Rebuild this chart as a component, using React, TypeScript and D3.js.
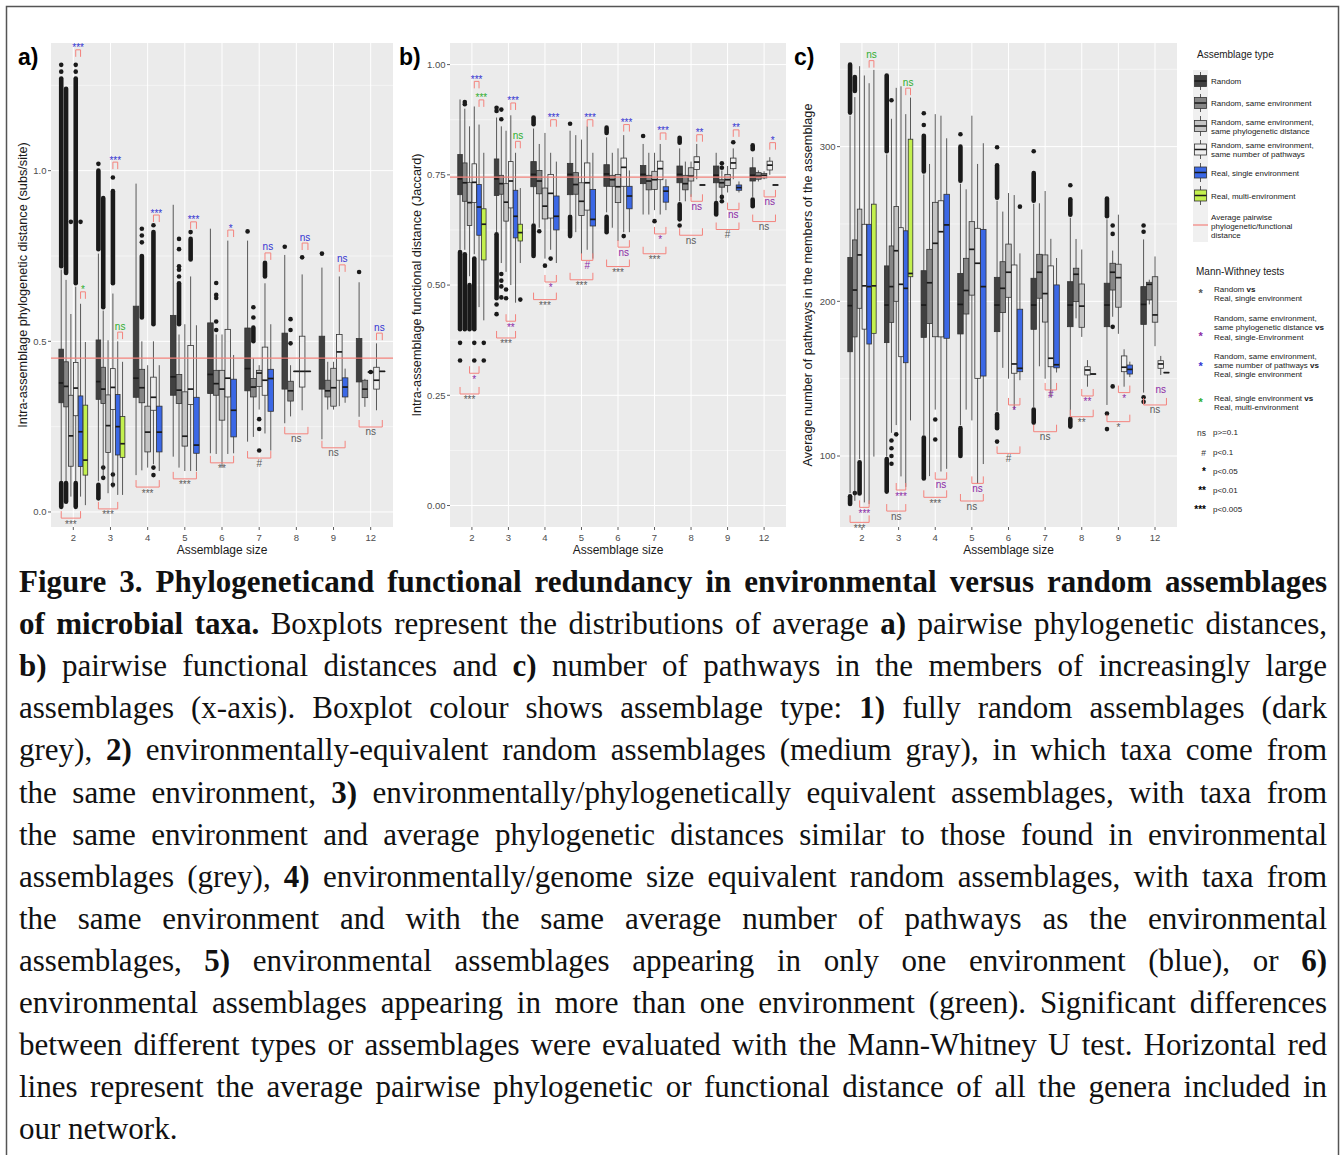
import { useEffect, useRef } from "react";
import * as d3 from "d3";

// assemblage sizes on the x axis
const sizes = ["2", "3", "4", "5", "6", "7", "8", "9", "12"];

const typeFills = ["#404040", "#858585", "#c4c4c4", "#eeeeee", "#3b68e6", "#c3f04e"];

// rows: [size index, type index, lower whisker, q1, median, q3, upper whisker]
const phyloBoxes = [
  [0, 0, 0.09, 0.32, 0.378, 0.477, 0.71], [0, 1, 0.09, 0.308, 0.368, 0.44, 0.68],
  [0, 2, 0.045, 0.134, 0.223, 0.342, 0.58], [0, 3, 0.09, 0.282, 0.363, 0.438, 0.66],
  [0, 4, 0.045, 0.133, 0.235, 0.34, 0.61], [0, 5, 0.02, 0.108, 0.152, 0.313, 0.498],
  [1, 0, 0.09, 0.33, 0.382, 0.504, 0.757], [1, 1, 0.1, 0.318, 0.36, 0.424, 0.59],
  [1, 2, 0.055, 0.174, 0.253, 0.343, 0.503], [1, 3, 0.07, 0.3, 0.365, 0.42, 0.64],
  [1, 4, 0.05, 0.167, 0.25, 0.344, 0.5], [1, 5, 0.05, 0.16, 0.2, 0.28, 0.44],
  [2, 0, 0.108, 0.336, 0.392, 0.603, 0.962], [2, 1, 0.122, 0.32, 0.364, 0.418, 0.5],
  [2, 2, 0.13, 0.176, 0.234, 0.31, 0.43], [2, 3, 0.14, 0.298, 0.336, 0.395, 0.5],
  [2, 4, 0.12, 0.176, 0.234, 0.31, 0.43],
  [3, 0, 0.162, 0.342, 0.396, 0.576, 0.9], [3, 1, 0.13, 0.318, 0.357, 0.403, 0.52],
  [3, 2, 0.12, 0.193, 0.222, 0.352, 0.55], [3, 3, 0.12, 0.315, 0.36, 0.488, 0.69],
  [3, 4, 0.12, 0.172, 0.196, 0.336, 0.547],
  [4, 0, 0.172, 0.347, 0.403, 0.554, 0.83], [4, 1, 0.17, 0.342, 0.376, 0.415, 0.52],
  [4, 2, 0.13, 0.269, 0.36, 0.415, 0.52], [4, 3, 0.17, 0.337, 0.392, 0.535, 0.795],
  [4, 4, 0.172, 0.22, 0.298, 0.389, 0.46],
  [5, 0, 0.206, 0.355, 0.42, 0.539, 0.795], [5, 1, 0.22, 0.337, 0.366, 0.391, 0.45],
  [5, 2, 0.3, 0.368, 0.407, 0.415, 0.43], [5, 3, 0.23, 0.342, 0.386, 0.483, 0.67],
  [5, 4, 0.18, 0.295, 0.391, 0.418, 0.55],
  [6, 0, 0.26, 0.36, 0.45, 0.524, 0.753], [6, 1, 0.28, 0.325, 0.355, 0.383, 0.43],
  [6, 2, 0.412, 0.412, 0.412, 0.412, 0.412], [6, 3, 0.298, 0.366, 0.412, 0.515, 0.696],
  [6, 4, 0.412, 0.412, 0.412, 0.412, 0.412],
  [7, 0, 0.213, 0.36, 0.45, 0.515, 0.716], [7, 1, 0.3, 0.337, 0.355, 0.386, 0.44],
  [7, 2, 0.3, 0.31, 0.364, 0.421, 0.44], [7, 3, 0.31, 0.386, 0.469, 0.52, 0.69],
  [7, 4, 0.32, 0.337, 0.366, 0.393, 0.42],
  [8, 0, 0.279, 0.381, 0.45, 0.508, 0.673], [8, 1, 0.308, 0.335, 0.36, 0.386, 0.39],
  [8, 2, 0.41, 0.41, 0.41, 0.41, 0.41], [8, 3, 0.298, 0.36, 0.386, 0.424, 0.494],
  [8, 4, 0.412, 0.412, 0.412, 0.412, 0.412],
];
// single outliers: [size, type, value]
const phyloDots = [
  [0, 0, 1.29], [0, 0, 1.31], [0, 3, 1.29], [0, 3, 1.31], [0, 2, 0.85], [0, 4, 0.85],
  [1, 0, 1.02], [1, 1, 0.13], [1, 1, 0.1], [1, 3, 0.98], [1, 3, 0.11], [1, 3, 0.08],
  [2, 1, 0.83], [2, 1, 0.81], [2, 1, 0.79], [2, 3, 0.84], [2, 3, 0.13], [2, 3, 0.108],
  [3, 1, 0.8], [3, 1, 0.77], [3, 1, 0.72], [3, 1, 0.71], [3, 1, 0.69], [3, 3, 0.82],
  [4, 1, 0.671], [4, 1, 0.636], [4, 1, 0.627], [4, 1, 0.558], [4, 1, 0.533],
  [5, 0, 0.822], [5, 1, 0.6], [5, 1, 0.57], [5, 2, 0.272], [5, 2, 0.243], [5, 2, 0.18],
  [6, 0, 0.777], [6, 1, 0.565], [6, 1, 0.533], [6, 1, 0.494], [6, 3, 0.746],
  [7, 0, 0.757], [8, 0, 0.703], [8, 2, 0.41],
];
// overplotted outlier columns: [size, type, from, to]
const phyloRuns = [
  [0, 0, 0.72, 1.27], [0, 1, 0.7, 1.24], [0, 3, 0.67, 1.27], [0, 0, 0.015, 0.085],
  [0, 1, 0.03, 0.085], [0, 3, 0.015, 0.085],
  [1, 0, 0.77, 1.0], [1, 1, 0.6, 0.92], [1, 3, 0.67, 0.94], [1, 0, 0.04, 0.08],
  [2, 1, 0.57, 0.75], [2, 3, 0.55, 0.82], [3, 1, 0.55, 0.67], [3, 3, 0.74, 0.8],
  [5, 1, 0.5, 0.54], [5, 3, 0.69, 0.73],
];
// significance labels: [size, colour, label, bracket level]
const phyloTop = [
  [0, "blue", "***", 1.354], [0, "green", "*", 0.645], [1, "blue", "***", 1.025],
  [1, "green", "ns", 0.527], [2, "blue", "***", 0.87], [3, "blue", "***", 0.85],
  [4, "blue", "*", 0.826], [5, "blue", "ns", 0.759], [6, "blue", "ns", 0.788],
  [7, "blue", "ns", 0.724], [8, "blue", "ns", 0.524],
];
const phyloBottom = [
  [0, "grey", "***", -0.018], [1, "grey", "***", 0.009], [2, "grey", "***", 0.073],
  [3, "grey", "***", 0.097], [4, "grey", "**", 0.144], [5, "grey", "#", 0.158],
  [6, "grey", "ns", 0.229], [7, "grey", "ns", 0.188], [8, "grey", "ns", 0.249],
];
const phyloMean = 0.451;

const funcBoxes = [
  [0, 0, 0.58, 0.705, 0.741, 0.796, 0.921], [0, 1, 0.58, 0.69, 0.732, 0.777, 0.9],
  [0, 2, 0.52, 0.635, 0.687, 0.733, 0.86], [0, 3, 0.57, 0.687, 0.733, 0.775, 0.905],
  [0, 4, 0.45, 0.613, 0.677, 0.728, 0.864], [0, 5, 0.42, 0.557, 0.638, 0.673, 0.8],
  [1, 0, 0.62, 0.703, 0.741, 0.786, 0.88], [1, 1, 0.55, 0.706, 0.73, 0.749, 0.86],
  [1, 2, 0.53, 0.645, 0.688, 0.73, 0.85], [1, 3, 0.5, 0.675, 0.736, 0.78, 0.885],
  [1, 4, 0.46, 0.607, 0.656, 0.715, 0.8], [1, 5, 0.55, 0.6, 0.619, 0.638, 0.72],
  [2, 0, 0.64, 0.723, 0.751, 0.78, 0.855], [2, 1, 0.63, 0.707, 0.736, 0.76, 0.82],
  [2, 2, 0.56, 0.65, 0.679, 0.72, 0.845], [2, 3, 0.58, 0.652, 0.708, 0.751, 0.8],
  [2, 4, 0.55, 0.625, 0.656, 0.702, 0.78],
  [3, 0, 0.66, 0.705, 0.751, 0.776, 0.85], [3, 1, 0.62, 0.706, 0.728, 0.755, 0.84],
  [3, 2, 0.57, 0.658, 0.69, 0.732, 0.83], [3, 3, 0.58, 0.67, 0.732, 0.777, 0.86],
  [3, 4, 0.56, 0.634, 0.649, 0.717, 0.8],
  [4, 0, 0.665, 0.724, 0.752, 0.773, 0.835], [4, 1, 0.63, 0.724, 0.739, 0.749, 0.8],
  [4, 2, 0.6, 0.687, 0.723, 0.751, 0.81], [4, 3, 0.62, 0.724, 0.767, 0.788, 0.84],
  [4, 4, 0.62, 0.673, 0.702, 0.724, 0.76],
  [5, 0, 0.66, 0.73, 0.751, 0.771, 0.82], [5, 1, 0.66, 0.716, 0.736, 0.749, 0.8],
  [5, 2, 0.67, 0.717, 0.739, 0.758, 0.8], [5, 3, 0.66, 0.739, 0.764, 0.781, 0.82],
  [5, 4, 0.67, 0.688, 0.713, 0.723, 0.74],
  [6, 0, 0.69, 0.732, 0.751, 0.77, 0.81], [6, 1, 0.69, 0.716, 0.73, 0.749, 0.78],
  [6, 2, 0.7, 0.736, 0.747, 0.766, 0.78], [6, 3, 0.74, 0.762, 0.779, 0.791, 0.82],
  [6, 4, 0.727, 0.727, 0.727, 0.727, 0.727],
  [7, 0, 0.69, 0.732, 0.749, 0.77, 0.8], [7, 1, 0.7, 0.722, 0.732, 0.739, 0.76],
  [7, 2, 0.71, 0.726, 0.739, 0.751, 0.77], [7, 3, 0.74, 0.764, 0.777, 0.788, 0.81],
  [7, 4, 0.71, 0.715, 0.721, 0.727, 0.735],
  [8, 0, 0.7, 0.736, 0.749, 0.766, 0.79], [8, 1, 0.735, 0.74, 0.747, 0.755, 0.76],
  [8, 2, 0.74, 0.743, 0.749, 0.753, 0.758], [8, 3, 0.75, 0.761, 0.772, 0.781, 0.79],
  [8, 4, 0.727, 0.727, 0.727, 0.727, 0.727],
];
const funcDots = [
  [0, 1, 0.915], [0, 1, 0.91], [0, 0, 0.369], [0, 0, 0.329], [0, 3, 0.369], [0, 3, 0.329],
  [0, 5, 0.369], [0, 5, 0.329],
  [1, 0, 0.895], [1, 0, 0.902], [1, 0, 0.456], [1, 0, 0.434], [1, 1, 0.898], [1, 1, 0.876],
  [1, 1, 0.525], [1, 1, 0.51], [1, 1, 0.497], [1, 1, 0.472], [1, 2, 0.49], [1, 2, 0.47],
  [1, 5, 0.467], [2, 1, 0.622], [2, 2, 0.544], [2, 3, 0.56], [3, 0, 0.866],
  [4, 3, 0.611], [5, 0, 0.838], [5, 2, 0.645], [6, 0, 0.635],
  [7, 1, 0.776], [7, 1, 0.766], [7, 1, 0.7], [7, 1, 0.69], [7, 3, 0.824],
];
const funcRuns = [
  [0, 0, 0.4, 0.575], [0, 1, 0.4, 0.57], [0, 2, 0.4, 0.5], [0, 3, 0.4, 0.56],
  [1, 0, 0.47, 0.615], [2, 0, 0.865, 0.88], [2, 0, 0.566, 0.635], [3, 0, 0.611, 0.655],
  [4, 0, 0.845, 0.857], [4, 0, 0.62, 0.655], [6, 0, 0.823, 0.834], [6, 0, 0.649, 0.683],
  [7, 0, 0.66, 0.686], [8, 0, 0.808, 0.817], [8, 0, 0.679, 0.694],
];
const funcTop = [
  [0, "blue", "***", 0.962], [0, "green", "***", 0.92], [1, "blue", "***", 0.913],
  [1, "green", "ns", 0.826], [2, "blue", "***", 0.875], [3, "blue", "***", 0.875],
  [4, "blue", "***", 0.864], [5, "blue", "***", 0.845], [6, "blue", "**", 0.841],
  [7, "blue", "**", 0.852], [8, "blue", "*", 0.823],
];
const funcBottom = [
  [0, "purple", "*", 0.3], [1, "purple", "**", 0.418], [2, "purple", "*", 0.507],
  [3, "purple", "#", 0.556], [4, "purple", "ns", 0.586], [5, "purple", "*", 0.616],
  [6, "purple", "ns", 0.69], [7, "purple", "ns", 0.671], [8, "purple", "ns", 0.7],
  [0, "grey", "***", 0.253], [1, "grey", "***", 0.38], [2, "grey", "***", 0.467],
  [3, "grey", "***", 0.512], [4, "grey", "***", 0.542], [5, "grey", "***", 0.571],
  [6, "grey", "ns", 0.613], [7, "grey", "#", 0.626], [8, "grey", "ns", 0.644],
];
const funcMean = 0.745;

const pathBoxes = [
  [0, 0, 76, 167.4, 197.2, 228.4, 320], [0, 1, 71, 177, 207.3, 239.7, 332],
  [0, 2, 98, 195.5, 230, 259.6, 352], [0, 3, 70, 182, 210, 249.8, 346],
  [0, 4, 69, 172.4, 209.5, 249.8, 341], [0, 5, 99.6, 179.3, 210, 262.8, 349.6],
  [1, 0, 99.6, 173.3, 197.6, 222.9, 295], [1, 1, 115, 186.4, 209.5, 235.8, 318],
  [1, 2, 120, 200, 232.7, 261.3, 338], [1, 3, 86.8, 164.2, 211, 247.6, 339],
  [1, 4, 80, 160.3, 208.4, 245.6, 321], [1, 5, 123, 215.9, 218, 304.8, 331.7],
  [2, 0, 113.6, 176.7, 197.6, 219.8, 282], [2, 1, 87, 185.7, 212, 233.6, 288.8],
  [2, 2, 130, 177.1, 237.5, 264, 321], [2, 3, 90, 177, 245, 265, 320],
  [2, 4, 91.7, 176.1, 249.4, 269.2, 305.4],
  [3, 0, 120, 178.9, 198, 218, 276], [3, 1, 130, 191.8, 207, 227.8, 272.4],
  [3, 2, 123, 204, 233.6, 251.5, 320], [3, 3, 82, 150.2, 224.6, 247.2, 288.8],
  [3, 4, 94.8, 151.7, 209.5, 246.5, 302.2],
  [4, 0, 129, 180.4, 197.6, 215.5, 265], [4, 1, 157, 192.7, 208.4, 225.6, 258],
  [4, 2, 150, 202.6, 218.8, 237, 270], [4, 3, 130, 153.5, 159.5, 223.5, 268.7],
  [4, 4, 149, 154.5, 156.7, 194.9, 231],
  [5, 0, 131.7, 181.9, 197.6, 214.9, 263], [5, 1, 158, 202, 218.8, 230.4, 263.4],
  [5, 2, 150, 186.6, 205, 230, 271.3], [5, 3, 138, 157.7, 163.2, 222.9, 240.4],
  [5, 4, 154, 157, 159, 210.6, 228],
  [6, 0, 126, 183.6, 197.6, 212.7, 254], [6, 1, 189, 199.8, 217.5, 221.4, 240.3],
  [6, 2, 177, 183.2, 196.9, 211.2, 233.5], [6, 3, 144.8, 152.4, 155.6, 157.7, 162],
  [6, 4, 153, 153, 153, 153, 153],
  [7, 0, 133, 183.6, 197.6, 211.7, 253], [7, 1, 190, 207.3, 218.8, 224.6, 232.8],
  [7, 2, 179, 196.2, 215.3, 224, 256], [7, 3, 144.8, 154.5, 157.4, 164.7, 169],
  [7, 4, 151, 153, 156, 158.8, 161],
  [8, 0, 141, 185.1, 198, 209.5, 240], [8, 1, 198, 200.9, 211, 212.3, 214],
  [8, 2, 171, 186.5, 191.2, 215.9, 229], [8, 3, 152.4, 156.7, 159.5, 161.6, 164.7],
  [8, 4, 153.9, 153.9, 153.9, 153.9, 153.9],
];
const pathDots = [
  [0, 1, 76], [1, 1, 330], [1, 1, 110], [1, 1, 105], [1, 1, 100], [1, 1, 95], [1, 2, 114],
  [2, 0, 314], [2, 0, 321.6], [2, 2, 123.6], [2, 2, 110.7], [3, 0, 308],
  [4, 0, 299.6], [4, 0, 109.3], [4, 4, 261.2], [5, 0, 297], [6, 0, 275],
  [7, 0, 127.5], [7, 0, 117.4], [7, 1, 249], [7, 1, 243.6], [7, 1, 183.5], [7, 1, 145],
  [8, 0, 249], [8, 0, 245], [8, 0, 138], [8, 0, 135],
];
const pathRuns = [
  [0, 0, 322, 353], [0, 1, 336, 345], [0, 0, 69, 74], [0, 2, 75.8, 96],
  [1, 0, 297, 346], [1, 0, 77, 98], [2, 0, 284, 307], [2, 0, 85.5, 112],
  [3, 0, 278, 300], [3, 0, 100, 118], [4, 0, 267, 288], [4, 0, 118, 127],
  [5, 0, 265, 283], [5, 0, 121.6, 130], [6, 0, 256, 266], [6, 0, 119, 124],
  [7, 0, 255, 266.5],
];
const pathTop = [[0, "green", "ns", 355.6], [1, "green", "ns", 337.8]];
const pathBottom = [
  [0, "purple", "***", 66.8], [1, "purple", "***", 78], [2, "purple", "ns", 85],
  [3, "purple", "ns", 82.3], [4, "purple", "*", 133], [5, "purple", "#", 142.7],
  [6, "purple", "**", 138.8], [7, "purple", "*", 141], [8, "purple", "ns", 146, "nobracket"],
  [0, "grey", "***", 57.1], [1, "grey", "ns", 64.4], [2, "grey", "***", 73.3],
  [3, "grey", "ns", 70.9], [4, "grey", "#", 101.7], [5, "grey", "ns", 115.7],
  [6, "grey", "**", 125.4], [7, "grey", "*", 122.2], [8, "grey", "ns", 133],
];

const captionLines: [string, boolean][][] = [
  [["Figure 3. Phylogeneticand functional redundancy in environmental versus random assemblages", true]],
  [["of microbial taxa.", true], [" Boxplots represent the distributions of average ", false], ["a)", true], [" pairwise phylogenetic distances,", false]],
  [["b)", true], [" pairwise functional distances and ", false], ["c)", true], [" number of pathways in the members of increasingly large", false]],
  [["assemblages (x-axis). Boxplot colour shows assemblage type: ", false], ["1)", true], [" fully random assemblages (dark", false]],
  [["grey), ", false], ["2)", true], [" environmentally-equivalent random assemblages (medium gray), in which taxa come from", false]],
  [["the same environment, ", false], ["3)", true], [" environmentally/phylogenetically equivalent assemblages, with taxa from", false]],
  [["the same environment and average phylogenetic distances similar to those found in environmental", false]],
  [["assemblages (grey), ", false], ["4)", true], [" environmentally/genome size equivalent random assemblages, with taxa from", false]],
  [["the same environment and with the same average number of pathways as the environmental", false]],
  [["assemblages, ", false], ["5)", true], [" environmental assemblages appearing in only one environment (blue), or ", false], ["6)", true]],
  [["environmental assemblages appearing in more than one environment (green). Significant differences", false]],
  [["between different types or assemblages were evaluated with the Mann-Whitney U test. Horizontal red", false]],
  [["lines represent the average pairwise phylogenetic or functional distance of all the genera included in", false]],
  [["our network.", false]],
];

const SANS = "'Liberation Sans', Arial, sans-serif";
const SERIF = "'Liberation Serif', 'Times New Roman', serif";
const Y0 = 43, Y1 = 527;
const sigColour: Record<string, string> = { blue: "#3434d2", green: "#2fae2f", purple: "#8c2aa6", grey: "#5c5c5c" };
const bracketColour = "#f4837d";

const panels = [
  { x0: 51, x1: 393, domain: [-0.044, 1.374], ticks: [0, 0.5, 1], minor: [0.25, 0.75, 1.25], fmt: ".1f",
    mean: phyloMean as number | null, boxes: phyloBoxes, dots: phyloDots, runs: phyloRuns, top: phyloTop, bottom: phyloBottom,
    title: "Intra-assemblage phylogenetic distance (subs/site)", titleX: 23, label: "a)", labelX: 18 },
  { x0: 450, x1: 786, domain: [-0.0487, 1.049], ticks: [0, 0.25, 0.5, 0.75, 1], minor: [0.125, 0.375, 0.625, 0.875], fmt: ".2f",
    mean: funcMean as number | null, boxes: funcBoxes, dots: funcDots, runs: funcRuns, top: funcTop, bottom: funcBottom,
    title: "Intra-assemblage functional distance (Jaccard)", titleX: 417, label: "b)", labelX: 399 },
  { x0: 840, x1: 1177, domain: [54.1, 367], ticks: [100, 200, 300], minor: [150, 250, 350], fmt: "d",
    mean: null, boxes: pathBoxes, dots: pathDots, runs: pathRuns, top: pathTop, bottom: pathBottom,
    title: "Average number of pathways in the members of the assemblage", titleX: 808, label: "c)", labelX: 794 },
];

function Panel({ p }: { p: typeof panels[number] }) {
  const x = d3.scalePoint().domain(sizes).range([p.x0, p.x1]).padding(0.6);
  const y = d3.scaleLinear().domain(p.domain).range([Y1, Y0]);
  const step = x.step();
  const present = sizes.map((_, si) => p.boxes.filter(b => b[0] === si).map(b => b[1] as number).sort((a, b) => a - b));
  const slotW = (si: number) => (step * 0.78) / present[si].length;
  const slotX = (si: number, t: number) =>
    (x(sizes[si]) as number) - step * 0.39 + slotW(si) * (present[si].indexOf(t) + 0.5);
  const fmt = d3.format(p.fmt);
  const pair: Record<string, [number, number]> = { blue: [3, 4], green: [4, 5], purple: [2, 4], grey: [0, 4] };
  const r = 2.3;

  return (
    <g>
      <rect x={p.x0} y={Y0} width={p.x1 - p.x0} height={Y1 - Y0} fill="#ebebeb" />
      {p.minor.filter(v => v > p.domain[0] && v < p.domain[1]).map(v => (
        <line key={"mn" + v} x1={p.x0} x2={p.x1} y1={y(v)} y2={y(v)} stroke="#fff" strokeWidth={0.5} />
      ))}
      {p.ticks.map(v => (
        <line key={"mj" + v} x1={p.x0} x2={p.x1} y1={y(v)} y2={y(v)} stroke="#fff" strokeWidth={1} />
      ))}
      {sizes.map(s => (
        <line key={"vx" + s} x1={x(s)} x2={x(s)} y1={Y0} y2={Y1} stroke="#fff" strokeWidth={1} />
      ))}
      {p.runs.map((d, i) => {
        const cx = slotX(d[0] as number, d[1] as number);
        const yt = y(d[3] as number) - r, yb = y(d[2] as number) + r;
        return <rect key={"run" + i} x={cx - r} y={yt} width={2 * r} height={yb - yt} rx={r} fill="#1a1a1a" />;
      })}
      {p.dots.map((d, i) => (
        <circle key={"dot" + i} cx={slotX(d[0] as number, d[1] as number)} cy={y(d[2] as number)} r={r} fill="#1a1a1a" />
      ))}
      {p.boxes.map((b, i) => {
        const [si, t, lo, q1, med, q3, hi] = b as number[];
        const cx = slotX(si, t);
        const w = slotW(si) * 0.96;
        return (
          <g key={"box" + i}>
            <line x1={cx} x2={cx} y1={y(hi)} y2={y(lo)} stroke="#333" strokeWidth={0.8} />
            <rect x={cx - w / 2} y={y(q3)} width={w} height={Math.max(y(q1) - y(q3), 0.1)}
              fill={typeFills[t]} stroke="#333" strokeWidth={0.8} />
            <line x1={cx - w / 2} x2={cx + w / 2} y1={y(med)} y2={y(med)} stroke="#1a1a1a" strokeWidth={1.7} />
          </g>
        );
      })}
      {p.mean !== null && (
        <line x1={p.x0} x2={p.x1} y1={y(p.mean)} y2={y(p.mean)} stroke={bracketColour} strokeWidth={1.2} />
      )}
      {p.top.map((a, i) => {
        const [si, col, lab, v] = a as [number, string, string, number];
        const [ta, tb] = pair[col];
        const xa = slotX(si, ta), xb = slotX(si, tb), yt = y(v);
        const star = lab.includes("*");
        return (
          <g key={"top" + i}>
            <path d={`M${xa},${yt + 7}V${yt}H${xb}V${yt + 7}`} fill="none" stroke={bracketColour} strokeWidth={1} />
            <text x={(xa + xb) / 2} y={star ? yt + 1.5 : yt - 2.5} textAnchor="middle" fontSize={10}
              fontFamily={SANS} fill={sigColour[col]}>{lab}</text>
          </g>
        );
      })}
      {p.bottom.map((a, i) => {
        const [si, col, lab, v, flag] = a as [number, string, string, number, string?];
        const [ta, tb] = pair[col];
        const xa = slotX(si, ta), xb = slotX(si, tb), yb = y(v);
        const star = lab.includes("*");
        return (
          <g key={"bot" + i}>
            {flag !== "nobracket" && (
              <path d={`M${xa},${yb - 7}V${yb}H${xb}V${yb - 7}`} fill="none" stroke={bracketColour} strokeWidth={1} />
            )}
            <text x={(xa + xb) / 2} y={star ? yb + 9.5 : yb + 8.5} textAnchor="middle" fontSize={10}
              fontFamily={SANS} fill={sigColour[col]}>{lab}</text>
          </g>
        );
      })}
      {p.ticks.map(v => (
        <g key={"yt" + v}>
          <line x1={p.x0 - 3} x2={p.x0} y1={y(v)} y2={y(v)} stroke="#333" strokeWidth={0.8} />
          <text x={p.x0 - 4.5} y={y(v) + 3.4} textAnchor="end" fontSize={9.5} fontFamily={SANS} fill="#4d4d4d">{fmt(v)}</text>
        </g>
      ))}
      {sizes.map(s => (
        <g key={"xt" + s}>
          <line x1={x(s)} x2={x(s)} y1={Y1} y2={Y1 + 3} stroke="#333" strokeWidth={0.8} />
          <text x={x(s)} y={Y1 + 13.5} textAnchor="middle" fontSize={9.5} fontFamily={SANS} fill="#4d4d4d">{s}</text>
        </g>
      ))}
      <text x={(p.x0 + p.x1) / 2} y={Y1 + 27} textAnchor="middle" fontSize={12} fontFamily={SANS} fill="#1a1a1a">
        Assemblage size
      </text>
      <text transform={`translate(${p.titleX},${(Y0 + Y1) / 2}) rotate(-90)`} dy="0.35em" textAnchor="middle"
        fontSize={12.7} fontFamily={SANS} fill="#1a1a1a">{p.title}</text>
      <text x={p.labelX} y={65} fontSize={23} fontWeight="bold" fontFamily={SANS} fill="#000">{p.label}</text>
    </g>
  );
}

function KeyGlyph({ top, bottom, fill }: { top: number; bottom: number; fill: string }) {
  const cx = 1200.5, mid = (top + bottom) / 2;
  return (
    <g>
      <rect x={1193} y={top} width={15} height={bottom - top} fill="#f0f0f0" />
      <line x1={cx} x2={cx} y1={top + 2} y2={bottom - 2} stroke="#333" strokeWidth={0.8} />
      <rect x={1194.5} y={mid - 5.5} width={12} height={11} fill={fill} stroke="#333" strokeWidth={0.8} />
      <line x1={1194.5} x2={1206.5} y1={mid} y2={mid} stroke="#1a1a1a" strokeWidth={1.5} />
    </g>
  );
}

function Legend() {
  const t = { fontFamily: SANS, fontSize: 8, fill: "#1a1a1a" };
  const rows = [[70, 92], [92, 114], [114, 138], [138, 161], [161, 184], [184, 207]];
  const labels = [
    ["Random"], ["Random, same environment"],
    ["Random, same environment,", "same phylogenetic distance"],
    ["Random, same environment,", "same number of pathways"],
    ["Real, single environment"], ["Real, multi-environment"],
  ];
  const mw = [
    { colour: "#555", star: 297, lines: [[291.5, "Random ", "vs"], [300.5, "Real, single environment", ""]] },
    { colour: "#8c2aa6", star: 340, lines: [[321, "Random, same environment,", ""], [330, "same phylogenetic distance ", "vs"], [339.5, "Real, single-Environment", ""]] },
    { colour: "#3434d2", star: 370, lines: [[358.5, "Random, same environment,", ""], [367.5, "same number of pathways ", "vs"], [376.5, "Real, single environment", ""]] },
    { colour: "#2fae2f", star: 405.5, lines: [[400.5, "Real, single environment ", "vs"], [409.5, "Real, multi-environment", ""]] },
  ];
  const pv = [["ns", "p>=0.1", 436, false], ["#", "p<0.1", 456, false], ["*", "p<0.05", 475, true], ["**", "p<0.01", 494, true], ["***", "p<0.005", 513, true]];
  return (
    <g>
      <text x={1197} y={57.5} fontFamily={SANS} fontSize={10} fill="#1a1a1a">Assemblage type</text>
      {rows.map(([a, b], i) => (
        <g key={"k" + i}>
          <KeyGlyph top={a} bottom={b} fill={typeFills[i]} />
          {labels[i].map((l, j) => (
            <text key={j} x={1211} y={(a + b) / 2 + 3 + (j - (labels[i].length - 1) / 2) * 9} {...t}>{l}</text>
          ))}
        </g>
      ))}
      <rect x={1193} y={207} width={15} height={35} fill="#f0f0f0" />
      <line x1={1193} x2={1208} y1={225} y2={225} stroke={bracketColour} strokeWidth={1.2} />
      {["Average pairwise", "phylogenetic/functional", "distance"].map((l, j) => (
        <text key={"av" + j} x={1211} y={219.7 + j * 9.2} {...t}>{l}</text>
      ))}
      <text x={1196} y={274.5} fontFamily={SANS} fontSize={10} fill="#1a1a1a">Mann-Withney tests</text>
      {mw.map((m, i) => (
        <g key={"mw" + i}>
          <text x={1200.7} y={m.star} textAnchor="middle" fontFamily={SANS} fontSize={11} fontWeight="bold" fill={m.colour}>*</text>
          {m.lines.map((l, j) => (
            <text key={j} x={1214} y={l[0] as number} {...t}>
              {l[1]}<tspan fontWeight="bold">{l[2]}</tspan>
            </text>
          ))}
        </g>
      ))}
      {pv.map(([s, l, yy, bold]) => (
        <g key={"pv" + l}>
          <text x={1206} y={yy as number} textAnchor="end" fontFamily={SANS} fontSize={bold ? 10 : 8.5}
            fontWeight={bold ? "bold" : "normal"} fill={bold ? "#000" : "#333"}>{s}</text>
          <text x={1213} y={(yy as number) - 1} {...t}>{l}</text>
        </g>
      ))}
    </g>
  );
}

export default function App() {
  const ref = useRef<SVGSVGElement>(null);

  useEffect(() => {
    // justify the caption: spread the spare width over the spaces of each line
    const nodes = d3.select(ref.current).selectAll<SVGTextElement, unknown>("text.cap").nodes();
    nodes.forEach((el, i) => {
      if (i === nodes.length - 1) return;
      el.style.wordSpacing = "0px";
      const len = el.getComputedTextLength();
      const spaces = (el.textContent || "").split(" ").length - 1;
      if (spaces > 0) el.style.wordSpacing = `${(1308 - len) / spaces}px`;
    });
  }, []);

  return (
    <svg ref={ref} width={1340} height={1155} style={{ position: "absolute", left: 0, top: 0, background: "#fff" }}>
      <rect x={6.5} y={6.5} width={1332} height={1170} fill="none" stroke="#555" strokeWidth={1.5} />
      {panels.map((p, i) => <Panel key={i} p={p} />)}
      <Legend />
      {captionLines.map((line, i) => (
        <text key={i} className="cap" x={19} y={592 + i * 42.1} fontFamily={SERIF} fontSize={31} fill="#111">
          {line.map(([s, b], j) => (
            <tspan key={j} fontWeight={b ? "bold" : "normal"}>{s}</tspan>
          ))}
        </text>
      ))}
    </svg>
  );
}
